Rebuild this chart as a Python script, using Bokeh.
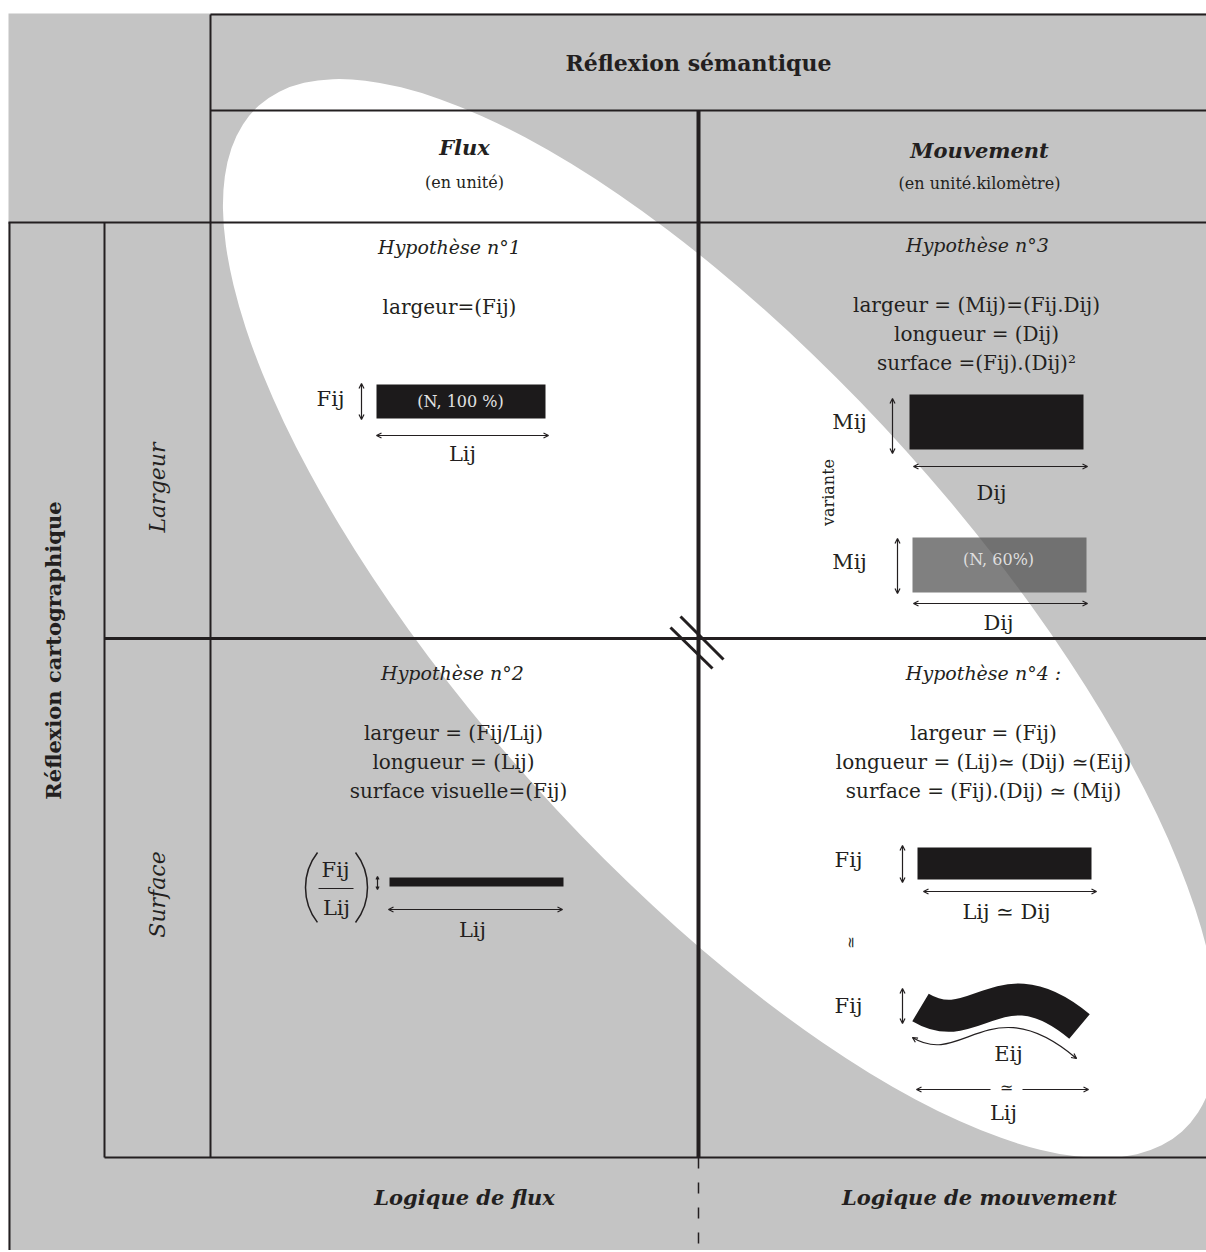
import numpy as np
from bokeh.plotting import figure
from bokeh.models import Range1d, Arrow, OpenHead
from bokeh.core.properties import value
from bokeh.embed import file_html
from bokeh.resources import INLINE

# ---------------- texts of the diagram ----------------
main_title = "Réflexion sémantique"
side_title = "Réflexion cartographique"
column_titles = ["Flux", "Mouvement"]
column_units = ["(en unité)", "(en unité.kilomètre)"]
row_titles = ["Largeur", "Surface"]
bottom_titles = ["Logique de flux", "Logique de mouvement"]
hyp_titles = ["Hypothèse n°1", "Hypothèse n°3", "Hypothèse n°2", "Hypothèse n°4 :"]
hyp1_lines = ["largeur=(Fij)"]
hyp2_lines = ["largeur = (Fij/Lij)", "longueur = (Lij)", "surface visuelle=(Fij)"]
hyp3_lines = ["largeur = (Mij)=(Fij.Dij)", "longueur = (Dij)", "surface =(Fij).(Dij)²"]
hyp4_lines = ["largeur = (Fij)", "longueur = (Lij)≃ (Dij) ≃(Eij)", "surface = (Fij).(Dij) ≃ (Mij)"]
bar_labels = ["(N, 100 %)", "(N, 60%)"]
variant_label = "variante"
sym_labels = ["Fij", "Lij", "Mij", "Dij", "Eij", "Lij ≃ Dij", "≃"]

# ---------------- styles ----------------
GRAY = "#c4c4c4"
INK = "#231f20"
SERIF = "DejaVu Serif"

p = figure(width=1206, height=1250, x_range=Range1d(0, 1206), y_range=Range1d(1250, 0),
           output_backend="svg", toolbar_location=None, x_axis_type=None, y_axis_type=None,
           min_border=0, outline_line_color=None,
           background_fill_color="white", border_fill_color="white")


def T(xs, ys, texts, size, style="normal", color=INK, angle=0.0, font=SERIF):
    p.text(x=xs, y=ys, text=texts, text_font=value(font),
           text_font_size=value(f"{size}px"), text_font_style=style,
           text_color=color, text_align="center", text_baseline="middle", angle=angle)


def darrow(x0, y0, x1, y1, size=5, start=True, end=True):
    kw = dict(x_start=x0, y_start=y0, x_end=x1, y_end=y1, line_color=INK, line_width=1.2)
    kw["start"] = OpenHead(size=size, line_color=INK, line_width=1.2) if start else None
    kw["end"] = OpenHead(size=size, line_color=INK, line_width=1.2) if end else None
    p.add_layout(Arrow(**kw))


# background and white ellipse
p.quad(left=[8], right=[1206], top=[13], bottom=[1252], fill_color=GRAY, line_color=None)
p.ellipse(x=[720], y=[618], width=[1380], height=[500], angle=[-0.838],
          width_units="screen", height_units="screen", fill_color="white", line_color=None)

# frame lines
p.segment(x0=[210, 210, 210, 8, 9, 104, 104], y0=[14, 110, 14, 222, 222, 222, 1157],
          x1=[1206, 1206, 210, 1206, 9, 104, 1206], y1=[14, 110, 1157, 222, 1252, 1157, 1157],
          line_color=INK, line_width=2)
p.segment(x0=[104], y0=[638], x1=[1206], y1=[638], line_color=INK, line_width=3)
p.segment(x0=[698], y0=[110], x1=[698], y1=[1157], line_color=INK, line_width=4)
p.segment(x0=[698], y0=[1157], x1=[698], y1=[1252], line_color=INK, line_width=1.5,
          line_dash="11 14")
p.segment(x0=[670, 680], y0=[627, 616], x1=[712, 723], y1=[668, 659],
          line_color=INK, line_width=3)

# headers
T([698], [62], [main_title], 22, "bold")
T([464, 979], [147, 150], column_titles, 21, "bold italic")
T([464, 979], [182, 183], column_units, 16)
T([53], [650], [side_title], 21, "bold", angle=np.pi / 2)
T([157, 157], [487, 894], row_titles, 22, "italic", angle=np.pi / 2)
T([464, 979], [1197, 1197], bottom_titles, 21, "bold italic")

# hypothesis titles and formulas
T([449, 977, 452, 983], [246, 244, 672, 672], hyp_titles, 19, "italic")
T([449], [306], hyp1_lines, 20)
T([453, 453, 458], [732, 761, 790], hyp2_lines, 20)
T([976, 976, 976], [304, 333, 362], hyp3_lines, 20)
T([983, 983, 983], [732, 761, 790], hyp4_lines, 20)

# ---- Hypothèse 1 ----
p.quad(left=[376], right=[545], top=[384], bottom=[418], fill_color="#1c1a1b", line_color=None)
T([460], [401], [bar_labels[0]], 16, color="#e2e2e2")
darrow(361, 383, 361, 419)
darrow(376, 435, 548, 435)
T([330, 462], [398, 453], [sym_labels[0], sym_labels[1]], 21)

# ---- Hypothèse 3 ----
p.quad(left=[909], right=[1083], top=[394], bottom=[449], fill_color="#1c1a1b", line_color=None)
darrow(892, 398, 892, 453)
darrow(913, 466, 1087, 466)
T([849, 991], [421, 492], [sym_labels[2], sym_labels[3]], 21)
T([828], [492], [variant_label], 16, angle=np.pi / 2)
p.quad(left=[912], right=[1086], top=[537], bottom=[592], fill_color="#555555",
       fill_alpha=0.75, line_color=None)
T([998], [559], [bar_labels[1]], 16, color="#dedede")
darrow(897, 538, 897, 593)
darrow(913, 603, 1087, 603)
T([849, 998], [561, 622], [sym_labels[2], sym_labels[3]], 21)

# ---- Hypothèse 2 ----
p.quad(left=[389], right=[563], top=[877], bottom=[886], fill_color="#1c1a1b", line_color=None)
darrow(377, 876, 377, 889, size=3)
T([335, 336], [869, 907], [sym_labels[0], sym_labels[1]], 21)
p.segment(x0=[318], y0=[888], x1=[353], y1=[888], line_color=INK, line_width=1.2)
p.arc(x=[362, 310], y=[887, 887], radius=[57, 57], start_angle=[2.48, -0.66],
      end_angle=[3.80, 0.66], radius_units="screen", line_color=INK, line_width=1.5)
darrow(388, 909, 562, 909)
T([472], [929], [sym_labels[1]], 21)

# ---- Hypothèse 4 ----
p.quad(left=[917], right=[1091], top=[847], bottom=[879], fill_color="#1c1a1b", line_color=None)
darrow(902, 845, 902, 882)
darrow(923, 891, 1096, 891)
T([848, 1006], [859, 911], [sym_labels[0], sym_labels[5]], 21)
T([850], [942], [sym_labels[6]], 15, angle=np.pi / 2)
p.bezier(x0=[920], y0=[1007], x1=[1079], y1=[1026], cx0=[975], cy0=[1040],
         cx1=[1000], cy1=[960], line_color="#1c1a1b", line_width=32, line_cap="butt")
darrow(902, 988, 902, 1023)
T([848], [1005], [sym_labels[0]], 21)
p.bezier(x0=[912], y0=[1037], x1=[1076], y1=[1058], cx0=[962], cy0=[1068],
         cx1=[990], cy1=[985], line_color=INK, line_width=1.2)
darrow(914.5, 1038.6, 912, 1037, start=False)
darrow(1073.6, 1056.2, 1076, 1058, start=False)
T([1008], [1053], [sym_labels[4]], 21)
darrow(990, 1089, 916, 1089, start=False)
darrow(1022, 1089, 1088, 1089, start=False)
T([1006], [1087], [sym_labels[6]], 16)
T([1003], [1112], [sym_labels[1]], 21)

open("out.html", "w").write(file_html(p, INLINE))
